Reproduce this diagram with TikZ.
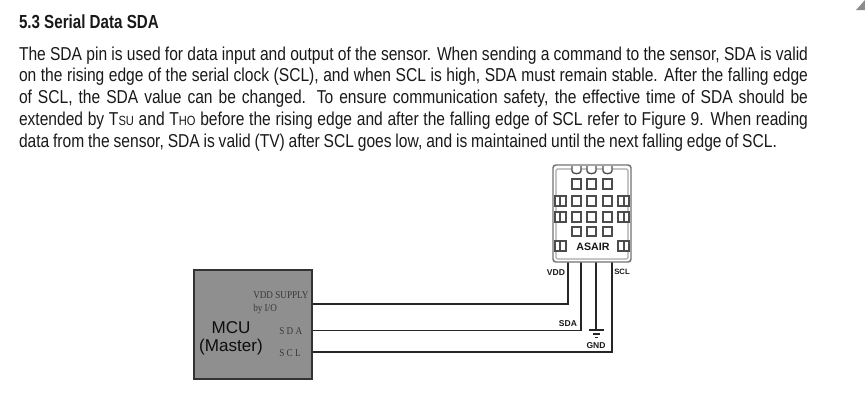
\documentclass[tikz,border=0pt]{standalone}
\usepackage{fontspec}
\setmainfont{Liberation Sans}
\newfontfamily\bodyfont[FakeStretch=0.835]{Liberation Sans}
\newfontfamily\titlefont[FakeStretch=0.80]{Liberation Sans Bold}
\newfontfamily\lblfont[FakeStretch=0.88]{Liberation Serif}
\newfontfamily\pinfont{Liberation Sans Bold}
\newcommand{\bodyline}[2]{\makebox[\dimexpr #1pt*3/4\relax][s]{#2}}
\begin{document}
\begin{tikzpicture}[x=0.75pt,y=-0.75pt,
  txtline/.style={anchor=base west,inner sep=0pt,outer sep=0pt,font=\bodyfont\fontsize{14}{16}\selectfont,text=black!90},
  sensorpart/.style={draw=black!70,line width=1pt,fill=white},
  sensorbody/.style={draw=black!55,line width=1.1pt,fill=white,rounded corners=2.2pt},
  wire/.style={draw=black!85,line width=0.8pt},
  mcubox/.style={draw=black!80,line width=0.9pt,fill=black!44,inner sep=0pt,minimum width=88.5pt,minimum height=81.75pt},
  pinlbl/.style={font=\pinfont\fontsize{6.4}{8}\selectfont,inner sep=0pt,text=black!90},
  ioleft/.style={font=\lblfont\fontsize{7.8}{9}\selectfont,inner sep=0pt,anchor=west,text=black!78},
  iospaced/.style={ioleft,font=\lblfont\fontsize{7.8}{9}\selectfont\addfontfeature{LetterSpace=22}},
  mculbl/.style={font=\fontsize{12.8}{15}\selectfont,inner sep=0pt,text=black!95}]
\useasboundingbox (0,0) rectangle (865,401);
\fill[black!45] (856,10) -- (865,0) -- (865,10) -- cycle;
% text
\node[txtline,font=\titlefont\fontsize{14.2}{16}\selectfont] (title) at (19,28) {5.3 Serial Data SDA};
\node[txtline] (l1) at (19,60) {\bodyline{789}{The SDA pin is used for data input and output of the sensor. When sending a command to the sensor, SDA is valid}};
\node[txtline] (l2) at (19,81) {\bodyline{789}{on the rising edge of the serial clock (SCL), and when SCL is high, SDA must remain stable. After the falling edge}};
\node[txtline] (l3) at (19,103) {\bodyline{789}{of SCL, the SDA value can be changed. To ensure communication safety, the effective time of SDA should be}};
\node[txtline] (l4) at (19,125) {\bodyline{789}{extended by T\raisebox{-0.5pt}{\fontsize{10}{11}\selectfont SU} and T\raisebox{-0.5pt}{\fontsize{10}{11}\selectfont HO} before the rising edge and after the falling edge of SCL refer to Figure 9. When reading}};
\node[txtline] (l5) at (19,147) {\bodyline{758}{data from the sensor, SDA is valid (TV) after SCL goes low, and is maintained until the next falling edge of SCL.}};
% MCU
\node[mcubox] (mcu) at (253,324.5) {};
\node[ioleft] (vs) at (253,295.5) {VDD SUPPLY};
\node[ioleft] (byio) at (253,309) {by I/O};
\node[iospaced] (sda) at (279,331.5) {SDA};
\node[iospaced] (scl) at (279,353.5) {SCL};
\node[mculbl] (m1) at (231,328) {MCU};
\node[mculbl] (m2) at (231,347) {(Master)};
% wires
\coordinate (pv) at (568,262);
\coordinate (pa) at (581,262);
\coordinate (pg) at (596,262);
\coordinate (pc) at (612,262);
\coordinate (cv) at (568,304);
\coordinate (ca) at (581,330.5);
\coordinate (cc) at (612,352);
\coordinate (gndtop) at (596,330);
\draw[wire] (pv) -- (cv) -- (cv -| mcu.east);
\draw[wire] (pa) -- (ca) -- (ca -| mcu.east);
\draw[wire] (pc) -- (cc) -- (cc -| mcu.east);
\draw[wire] (pg) -- (gndtop);
\draw[wire] (589,330) -- (604,330);
\draw[wire] (593,334) -- (600,334);
\draw[wire] (595,337.5) -- (598,337.5);
\node[pinlbl] (lv) at (556,273) {VDD};
\node[pinlbl,font=\pinfont\fontsize{5.8}{8}\selectfont] (lc) at (622,272) {SCL};
\node[pinlbl] (la) at (568,324) {SDA};
\node[pinlbl] (lg) at (596,345.5) {GND};
% sensor
\draw[sensorbody] (553,165) rectangle (631,262);
\draw[draw=black!35,line width=0.8pt,rounded corners=1pt] (556,169) rectangle (628,259);
\foreach \x in {572,587,603}{
  \draw[sensorpart] (\x,166) -- (\x,171) to[out=-90,in=-90,looseness=1] (\x+9,171) -- (\x+9,166);
  \foreach \y in {179,196,212}{\draw[sensorpart] (\x,\y) rectangle +(9,10);}
  \draw[sensorpart] (\x,227) rectangle +(9,9);
}
\foreach \y in {196,212}{
  \draw[sensorpart] (555,\y) rectangle +(11,10); \draw[black!70,line width=0.8pt] (560,\y) -- +(0,10);
  \draw[sensorpart] (618,\y) rectangle +(11,10); \draw[black!70,line width=0.8pt] (624,\y) -- +(0,10);
}
\draw[sensorpart] (555,241) rectangle +(11,10); \draw[black!70,line width=0.8pt] (560,241) -- +(0,10);
\draw[sensorpart] (618,241) rectangle +(11,10); \draw[black!70,line width=0.8pt] (624,241) -- +(0,10);
\node[font=\pinfont\fontsize{8}{10}\selectfont,inner sep=0pt,text=black!90] (asair) at (593,247) {ASAIR};
\end{tikzpicture}
\end{document}
